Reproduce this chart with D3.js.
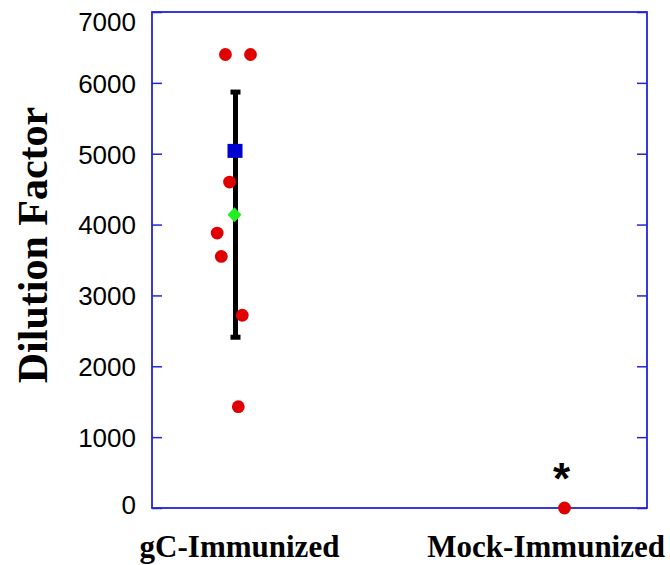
<!DOCTYPE html>
<html>
<head>
<meta charset="utf-8">
<script src="https://cdn.jsdelivr.net/npm/d3@7"></script>
<style>
  html, body { margin: 0; padding: 0; background: #fff; }
  svg { display: block; }
</style>
</head>
<body>
<div id="chart"></div>
<script>
// groups along the x axis, placed at 0.5 and 2.5 of a 0..3 domain
const groups = ["gC-Immunized", "Mock-Immunized"];
const groupPos = [0.5, 2.5];

// individual titres (red dots) and their horizontal jitter, in x units
const gcValues = [6400, 6400, 4600, 3880, 3550, 2720, 1430];
const gcJitter = [-0.055, 0.097, -0.03, -0.105, -0.08, 0.047, 0.023];
const mockValues = [0];
const mockJitter = [0];

// summary marks for the gC group
const gcMean = 4140;     // green diamond, centre of error bar
const gcSpread = 1730;   // error bar half-height
const gcSquare = 5040;   // blue square

const yTicks = [0, 1000, 2000, 3000, 4000, 5000, 6000, 7000];

////////////////////////////////////////////////////////////////////////////////////

const width = 670;
const height = 565;
const frame = { left: 152, right: 647, top: 12, bottom: 508 };
const axisColor = "#2424d8";

const svg = d3.select("#chart")
  .append("svg")
  .attr("width", width)
  .attr("height", height);

const x = d3.scaleLinear().domain([0, 3]).range([frame.left, frame.right]);
const y = d3.scaleLinear().domain([0, 7000]).range([frame.bottom, frame.top]);

////////////////////////////////////////////////////////////////////////////////////

// left axis with labels, ticks pointing inward
const left = svg.append("g")
  .attr("transform", `translate(${frame.left},0)`)
  .call(d3.axisLeft(y).tickValues(yTicks).tickFormat(d3.format("d"))
    .tickSizeInner(-10).tickSizeOuter(0).tickPadding(16));

left.selectAll("text")
  .style("font-family", "'Liberation Sans', Arial, sans-serif")
  .style("font-size", "26px")
  .attr("fill", "#000")
  .attr("dy", (d) => d === 7000 ? "0.72em" : d === 0 ? "0.22em" : "0.36em");

// right axis, ticks only
svg.append("g")
  .attr("transform", `translate(${frame.right},0)`)
  .call(d3.axisRight(y).tickValues(yTicks).tickFormat("")
    .tickSizeInner(-10).tickSizeOuter(0));

svg.selectAll(".domain").remove();
svg.selectAll(".tick line").attr("stroke", axisColor).attr("stroke-width", 1.5);

// frame
svg.append("rect")
  .attr("x", frame.left)
  .attr("y", frame.top)
  .attr("width", frame.right - frame.left)
  .attr("height", frame.bottom - frame.top)
  .attr("fill", "none")
  .attr("stroke", axisColor)
  .attr("stroke-width", 1.8);

////////////////////////////////////////////////////////////////////////////////////

// error bar around the mean
const gcX = x(groupPos[0]);
const bar = svg.append("g");
bar.append("line")
  .attr("x1", gcX + 1).attr("x2", gcX + 1)
  .attr("y1", y(gcMean + gcSpread)).attr("y2", y(gcMean - gcSpread))
  .attr("stroke", "#000").attr("stroke-width", 5);
bar.selectAll("rect")
  .data([gcMean + gcSpread, gcMean - gcSpread])
  .enter()
  .append("rect")
  .attr("x", gcX - 4)
  .attr("y", (d) => y(d) - 2.5)
  .attr("width", 10)
  .attr("height", 5)
  .attr("fill", "#000");

// individual points
const points = gcValues.map((v, i) => ({ v: v, x: groupPos[0] + gcJitter[i] }))
  .concat(mockValues.map((v, i) => ({ v: v, x: groupPos[1] + mockJitter[i] })));

svg.append("g")
  .selectAll("circle")
  .data(points)
  .enter()
  .append("circle")
  .attr("cx", (d) => x(d.x))
  .attr("cy", (d) => y(d.v))
  .attr("r", 6.4)
  .attr("fill", "#e00000");

// blue square
svg.append("rect")
  .attr("x", gcX - 7)
  .attr("y", y(gcSquare) - 7)
  .attr("width", 15)
  .attr("height", 14)
  .attr("fill", "#0000d0");

// green diamond (mean)
svg.append("path")
  .attr("transform", `translate(${gcX},${y(gcMean)})`)
  .attr("d", "M0,-7.5L7,0L0,7.5L-7,0Z")
  .attr("fill", "#22ee22");

// significance star above the mock group
svg.append("text")
  .attr("x", x(groupPos[1]) - 3)
  .attr("y", y(mockValues[0]) - 14)
  .attr("text-anchor", "middle")
  .style("font-family", "'Liberation Sans', Arial, sans-serif")
  .style("font-weight", "bold")
  .style("font-size", "44px")
  .text("*");

////////////////////////////////////////////////////////////////////////////////////

// category labels, kept inside the picture
svg.append("g")
  .selectAll("text")
  .data(groups)
  .enter()
  .append("text")
  .attr("y", 557)
  .attr("text-anchor", "middle")
  .style("font-family", "'Liberation Serif', 'Times New Roman', serif")
  .style("font-weight", "bold")
  .style("font-size", "31px")
  .text((d) => d)
  .attr("x", function (d, i) {
    const half = this.getComputedTextLength() / 2;
    return Math.min(x(groupPos[i]) + 5, width - 5 - half);
  });

// y axis title
svg.append("text")
  .attr("transform", "translate(47,245) rotate(-90)")
  .attr("text-anchor", "middle")
  .style("font-family", "'Liberation Serif', 'Times New Roman', serif")
  .style("font-weight", "bold")
  .style("font-size", "42px")
  .text("Dilution Factor");
</script>
</body>
</html>
